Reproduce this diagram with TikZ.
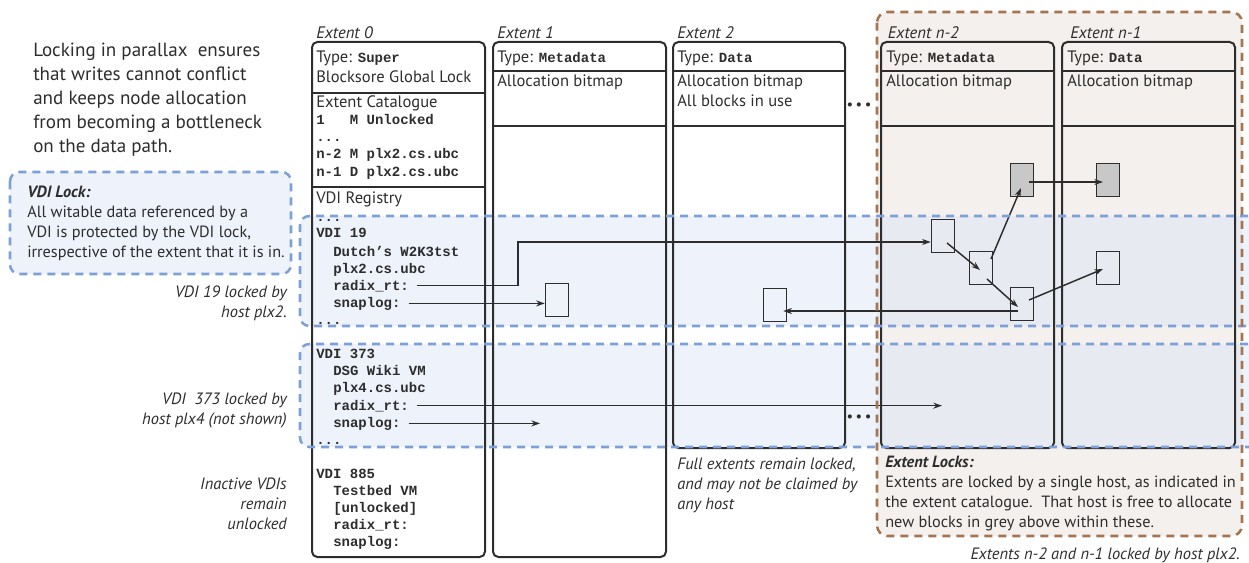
\documentclass[tikz,border=0pt]{standalone}
\usepackage{fontspec}
\setmainfont{PT Sans}
\setmonofont{Liberation Mono}
\usetikzlibrary{positioning, arrows.meta, calc}

\definecolor{ink}{RGB}{45,45,45}
\definecolor{zoneblue}{RGB}{125,160,215}
\definecolor{zonefill}{RGB}{221,229,247}
\definecolor{lockbrown}{RGB}{163,117,80}
\definecolor{lockfill}{RGB}{244,240,237}
\definecolor{blkgrey}{RGB}{200,200,200}

\newcommand{\kw}[1]{{\fontsize{10.5}{13}\selectfont\ttfamily\bfseries #1}}

\tikzset{
  exbox/.style={draw=ink, line width=1.5pt, rounded corners=4pt, minimum width=129.75pt, anchor=north west, inner sep=0pt, outer sep=0pt},
  exrule/.style={draw=ink, line width=1.3pt},
  exlbl/.style={inner sep=0pt, text=ink, font=\fontsize{12.5}{14}\selectfont\itshape},
  txt/.style={anchor=base west, inner sep=0pt, text=ink, font=\fontsize{12.4}{14}\selectfont},
  ttline/.style={txt, font=\fontsize{10.5}{13}\selectfont\ttfamily\bfseries},
  note/.style={inner sep=0pt, text=ink, font=\fontsize{12.3}{15}\selectfont\itshape},
  para/.style={inner sep=0pt, text=ink, align=left, anchor=north west, font=\fontsize{12.2}{15}\selectfont},
  blk/.style={draw=ink, line width=1.1pt, minimum width=17.25pt, minimum height=24.75pt, inner sep=0pt},
  gblk/.style={blk, fill=blkgrey},
  ptr/.style={draw=ink, line width=1.1pt, -{Stealth[length=6.5pt,width=4.5pt]}},
  zone/.style={fill=zonefill, fill opacity=0.5, rounded corners=7pt},
  zoneline/.style={draw=zoneblue, line width=1.9pt, dash pattern=on 6pt off 4.5pt, rounded corners=7pt},
  lockline/.style={draw=lockbrown, line width=1.9pt, dash pattern=on 6pt off 4.5pt, rounded corners=8pt},
  dots/.style={inner sep=0pt, text=ink, font=\fontsize{11}{13}\selectfont}
}

\begin{document}
\begin{tikzpicture}[x=0.75pt, y=-0.75pt]
\useasboundingbox (0,0) rectangle (1249,563);

\fill[lockfill, rounded corners=8pt] (877,12) rectangle (1242,536);
\fill[zone] (300,216) rectangle (1262,326);
\fill[zone] (300,344) rectangle (1262,447);
\fill[zone] (10,172) rectangle (291,274);

\node[exbox, minimum height=386.25pt] (ext0) at (312,42) {};
\node[exbox, minimum height=386.25pt, right=6pt of ext0.north east, anchor=north west] (ext1) {};
\node[exbox, minimum height=304.5pt, minimum width=129pt, right=5.25pt of ext1.north east, anchor=north west] (ext2) {};
\node[exbox, minimum height=304.5pt, right=27pt of ext2.north east, anchor=north west] (extn2) {};
\node[exbox, minimum height=304.5pt, right=6pt of extn2.north east, anchor=north west] (extn1) {};

\node[exlbl, above right=2pt and 3pt of ext0.north west] (l0) {Extent 0};
\node[exlbl, above right=2pt and 3pt of ext1.north west] (l1) {Extent 1};
\node[exlbl, above right=2pt and 3pt of ext2.north west] (l2) {Extent 2};
\node[exlbl, above right=2pt and 5pt of extn2.north west] (ln2) {Extent n-2};
\node[exlbl, above right=2pt and 6pt of extn1.north west] (ln1) {Extent n-1};

\draw[exrule] (ext0.west |- 0,93) -- (ext0.east |- 0,93)
  (ext0.west |- 0,187) -- (ext0.east |- 0,187);
\foreach \e in {ext1,ext2,extn2,extn1}{
  \draw[exrule] (\e.west |- 0,71) -- (\e.east |- 0,71)
    (\e.west |- 0,126) -- (\e.east |- 0,126);
}

\node[txt] (t0) at (316,63) {Type: \kw{Super}};
\node[txt] (gl) at (316,83) {Blocksore Global Lock};
\node[txt] (cat) at (316,108) {Extent Catalogue};
\node[ttline] (c1) at (316,125) {1\ \ \ M Unlocked};
\node[ttline] (c2) at (316,142) {...};
\node[ttline] (c3) at (316,159) {n-2 M plx2.cs.ubc};
\node[ttline] (c4) at (316,176) {n-1 D plx2.cs.ubc};
\node[txt] (reg) at (316,204) {VDI Registry};
\node[ttline] (v0) at (316,221) {...};
\node[ttline] (v19) at (316,238) {VDI 19};
\node[ttline] (n19) at (333,256) {Dutch’s W2K3tst};
\node[ttline] (h19) at (333,273) {plx2.cs.ubc};
\node[ttline] (r19) at (333,290) {radix\_rt:};
\node[ttline] (s19) at (333,307) {snaplog:};
\node[ttline] (v1) at (316,324) {...};
\node[ttline] (v373) at (316,358) {VDI 373};
\node[ttline] (n373) at (333,375) {DSG Wiki VM};
\node[ttline] (h373) at (333,392) {plx4.cs.ubc};
\node[ttline] (r373) at (333,410) {radix\_rt:};
\node[ttline] (s373) at (333,427) {snaplog:};
\node[ttline] (v2) at (316,444) {...};
\node[ttline] (v885) at (316,478) {VDI 885};
\node[ttline] (n885) at (333,495) {Testbed VM};
\node[ttline] (h885) at (333,512) {[unlocked]};
\node[ttline] (r885) at (333,529) {radix\_rt:};
\node[ttline] (s885) at (333,546) {snaplog:};

\node[txt] (t1) at (497,63) {Type: \kw{Metadata}};
\node[txt] (a1) at (497,87) {Allocation bitmap};
\node[txt] (t2) at (677,63) {Type: \kw{Data}};
\node[txt] (a2) at (677,87) {Allocation bitmap};
\node[txt] (u2) at (677,107) {All blocks in use};
\node[txt] (tn2) at (886,63) {Type: \kw{Metadata}};
\node[txt] (an2) at (886,87) {Allocation bitmap};
\node[txt] (tn1) at (1067,63) {Type: \kw{Data}};
\node[txt] (an1) at (1067,87) {Allocation bitmap};

\node[dots] (dA) at (859,106) {\textbullet\,\textbullet\,\textbullet};
\node[dots] (dB) at (859,418) {\textbullet\,\textbullet\,\textbullet};

\node[inner sep=0pt, text=ink, align=left, anchor=north west, font=\fontsize{14.3}{18}\selectfont] (intro) at (33,43)
  {Locking in parallax\ \ ensures\\that writes cannot conflict\\and keeps node allocation\\from becoming a bottleneck\\on the data path.};
\node[para] (vdilock) at (27,186)
  {\textbf{\textit{VDI Lock:}}\\All witable data referenced by a\\VDI is protected by the VDI lock,\\irrespective of the extent that it is in.};
\node[note, align=right, anchor=north east] (n19) at (287,286) {VDI 19 locked by\\host plx2.};
\node[note, align=right, anchor=north east] (n373) at (287,393) {VDI\ \ 373 locked by\\host plx4 (not shown)};
\node[note, align=right, anchor=north east] (nin) at (287,478) {Inactive VDIs\\remain\\unlocked};
\node[note, align=left, anchor=north west] (nfull) at (677,458) {Full extents remain locked,\\and may not be claimed by\\any host};
\node[para] (extlock) at (885,456)
  {\textbf{\textit{Extent Locks:}}\\Extents are locked by a single host, as indicated in\\the extent catalogue.\ \ That host is free to allocate\\new blocks in grey above within these.};
\node[note, anchor=north east] (nhost) at (1240,548) {Extents n-2 and n-1 locked by host plx2.};

\node[blk] (b1) at (557,300) {};
\node[blk] (b2) at (775,305) {};
\node[blk] (ba) at (943,236) {};
\node[blk] (bb) at (981,268) {};
\node[gblk] (bc) at (1022,180) {};
\node[blk] (bd) at (1022,304) {};
\node[gblk] (be) at (1108,180) {};
\node[blk] (bf) at (1108,268) {};

\coordinate (bend19) at (518,242);
\coordinate (end373) at (942,407);
\coordinate (end373s) at (540,422);

\draw[ptr] ([xshift=6pt]r19.east) -| (bend19) -- (bend19 -| ba.west);
\draw[ptr] ([xshift=6pt]s19.east) -- (s19.east -| b1.west);
\draw[ptr] ([shift={(4,7)}]ba.center) -- ([shift={(-1,2)}]bb.center);
\draw[ptr] ([shift={(10,-9)}]bb.center) -- ([shift={(-1,8)}]bc.center);
\draw[ptr] ([shift={(7,2)}]bc.center) -- ([shift={(-5,2)}]be.center);
\draw[ptr] ([shift={(6,11)}]bb.center) -- ([shift={(-4,3)}]bd.center);
\draw[ptr] ([shift={(7,-4)}]bd.center) -- ([shift={(-5,1)}]bf.center);
\draw[ptr] ([shift={(-4,7)}]bd.center) -- ([shift={(-4,7)}]bd.center -| b2.east);
\draw[ptr] ([xshift=6pt]r373.east) -- (r373.east -| end373);
\draw[ptr] ([xshift=6pt]s373.east) -- (s373.east -| end373s);

\draw[zoneline] (1262,216) -- (300,216) -- (300,326) -- (1262,326);
\draw[zoneline] (1262,344) -- (300,344) -- (300,447) -- (1262,447);
\draw[zoneline] (10,172) rectangle (291,274);
\draw[lockline] (877,12) rectangle (1242,536);
\end{tikzpicture}
\end{document}
